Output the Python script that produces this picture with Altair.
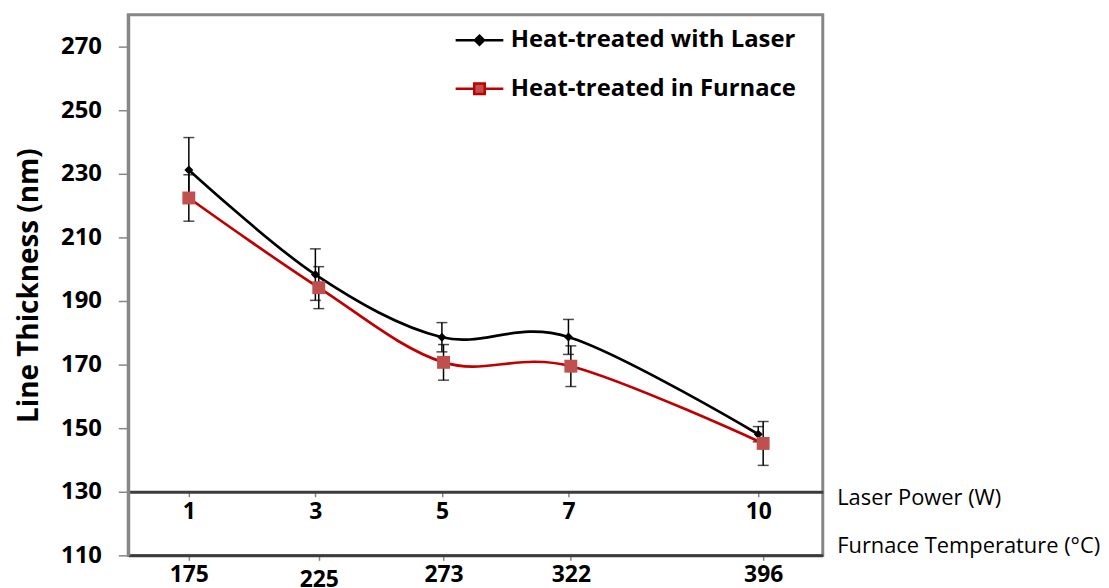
import altair as alt
import pandas as pd

# ---------------- data ----------------
series_names = ["Heat-treated with Laser", "Heat-treated in Furnace"]

laser_power = [1, 3, 5, 7, 10]
laser_thickness = [231.2, 198.3, 178.6, 178.7, 148.1]
laser_err = [10.2, 8.1, 4.6, 5.5, 2.4]

furnace_temp = [175, 225, 273, 322, 396]
furnace_thickness = [222.4, 194.2, 170.7, 169.5, 145.2]
furnace_err = [7.3, 6.6, 5.6, 6.4, 6.9]

y_ticks = [110, 130, 150, 170, 190, 210, 230, 250, 270]

laser_df = pd.DataFrame({
    "power": laser_power,
    "thickness": laser_thickness,
    "lo": [t - e for t, e in zip(laser_thickness, laser_err)],
    "hi": [t + e for t, e in zip(laser_thickness, laser_err)],
})
furnace_df = pd.DataFrame({
    "temp": furnace_temp,
    "thickness": furnace_thickness,
    "lo": [t - e for t, e in zip(furnace_thickness, furnace_err)],
    "hi": [t + e for t, e in zip(furnace_thickness, furnace_err)],
})
legend_df = pd.DataFrame({
    "power": [laser_power[0], laser_power[0]],
    "thickness": [laser_thickness[0], furnace_thickness[0]],
    "series": series_names,
})

# ---------------- style ----------------
FONT = "Open Sans"
W, H = 699, 544
FRAME = "#868686"
DARK = "#3c3c3c"

y_scale = alt.Scale(domain=[110, 280], nice=False, zero=False)
y_axis = alt.Axis(
    values=y_ticks, title="Line Thickness (nm)", grid=False,
    domainColor=FRAME, domainWidth=3, tickColor=FRAME, tickSize=10, tickWidth=1.5,
    labelFont=FONT, labelFontSize=24, labelFontWeight="bold", labelColor="black",
    labelPadding=17, titleFont=FONT, titleFontSize=28, titleFontWeight="bold",
    titleColor="black", titlePadding=17,
)


def Y(field):
    return alt.Y(f"{field}:Q", scale=y_scale, axis=y_axis)


laser_scale = alt.Scale(domain=[0.042, 11.02], nice=False, zero=False)
laser_axis = alt.Axis(
    orient="bottom", offset=-64, values=laser_power, format="d", grid=False,
    domainColor=DARK, domainWidth=3, tickColor=FRAME, tickSize=5, tickWidth=1.5,
    labelFont=FONT, labelFontSize=23, labelFontWeight="bold", labelColor="black",
    labelPadding=4, title="Laser Power (W)", titleFont=FONT, titleFontSize=22,
    titleFontWeight="normal", titleColor="black", titleX=W + 14, titleY=6,
    titleAlign="left", titleBaseline="middle", titleAngle=0,
)
furnace_scale = alt.Scale(domain=[151.68, 418.94], nice=False, zero=False)
furnace_axis = alt.Axis(
    orient="bottom", offset=0, values=furnace_temp, format="d", grid=False,
    domainColor=DARK, domainWidth=3, tickColor=FRAME, tickSize=5, tickWidth=1.5,
    labelFont=FONT, labelFontSize=23, labelFontWeight="bold", labelColor="black",
    labelPadding={"condition": {"test": "datum.value == 225", "value": 8}, "value": 3},
    title="Furnace Temperature (°C)", titleFont=FONT, titleFontSize=22,
    titleFontWeight="normal", titleColor="black", titleX=W + 14, titleY=-10,
    titleAlign="left", titleBaseline="middle", titleAngle=0,
)

XL = alt.X("power:Q", scale=laser_scale, axis=laser_axis)
XF = alt.X("temp:Q", scale=furnace_scale, axis=furnace_axis)

# ---------------- laser layers ----------------
lb = alt.Chart(laser_df)
laser_line = lb.mark_line(interpolate="cardinal", tension=0, strokeWidth=2.7, color="black").encode(x=XL, y=Y("thickness"))
laser_rule = lb.mark_rule(color="black", strokeWidth=1.5).encode(x=XL, y=Y("lo"), y2="hi:Q")
laser_cap_lo = lb.mark_tick(orient="horizontal", size=11, thickness=1.5, color="black").encode(x=XL, y=Y("lo"))
laser_cap_hi = lb.mark_tick(orient="horizontal", size=11, thickness=1.5, color="black").encode(x=XL, y=Y("hi"))
laser_pts = lb.mark_point(shape="diamond", filled=True, size=81, color="black", opacity=1).encode(x=XL, y=Y("thickness"))

# legend (hidden marks, visible legend)
laser_path = "M-1,0H1M0,-0.19L0.19,0L0,0.19L-0.19,0Z"
furnace_path = "M-1,0H-0.24M0.24,0H1M-0.22,-0.22H0.22V0.22H-0.22Z"
leg = alt.Legend(
    title=None, orient="none", legendX=328, legendY=0, symbolSize=2304,
    symbolStrokeWidth=2.5, symbolOpacity=1, labelFont=FONT, labelFontSize=24,
    labelFontWeight="bold", labelColor="black", labelOffset=6, rowPadding=11,
    padding=0, labelLimit=500,
)
legend_layer = alt.Chart(legend_df).mark_point(opacity=0, size=2304).encode(
    x=XL, y=Y("thickness"),
    shape=alt.Shape("series:N", scale=alt.Scale(domain=series_names, range=[laser_path, furnace_path]), legend=leg),
    fill=alt.Fill("series:N", scale=alt.Scale(domain=series_names, range=["black", "#C0504D"]), legend=leg),
    stroke=alt.Stroke("series:N", scale=alt.Scale(domain=series_names, range=["black", "#C00000"]), legend=leg),
)

laser = alt.layer(laser_line, laser_rule, laser_cap_lo, laser_cap_hi, laser_pts, legend_layer)

# ---------------- furnace layers ----------------
fb = alt.Chart(furnace_df)
furn_line = fb.mark_line(interpolate="cardinal", tension=0, strokeWidth=2.7, color="#C00000").encode(x=XF, y=Y("thickness"))
furn_rule = fb.mark_rule(color="black", strokeWidth=1.5).encode(x=XF, y=Y("lo"), y2="hi:Q")
furn_cap_lo = fb.mark_tick(orient="horizontal", size=11, thickness=1.5, color="black").encode(x=XF, y=Y("lo"))
furn_cap_hi = fb.mark_tick(orient="horizontal", size=11, thickness=1.5, color="black").encode(x=XF, y=Y("hi"))
furn_pts = fb.mark_point(shape="square", filled=True, size=169, color="#C0504D", opacity=1).encode(x=XF, y=Y("thickness"))

furnace = alt.layer(furn_line, furn_rule, furn_cap_lo, furn_cap_hi, furn_pts)

chart = alt.layer(laser, furnace).resolve_scale(x="independent").properties(
    width=W, height=H,
    autosize=alt.AutoSizeParams(type="none"),
    padding={"left": 121, "top": 5, "right": 280, "bottom": 36},
).configure(
    background="white",
    view=alt.ViewConfig(stroke=FRAME, strokeWidth=3),
)

chart.save("out.html", embed_options={"renderer": "svg", "actions": False})
